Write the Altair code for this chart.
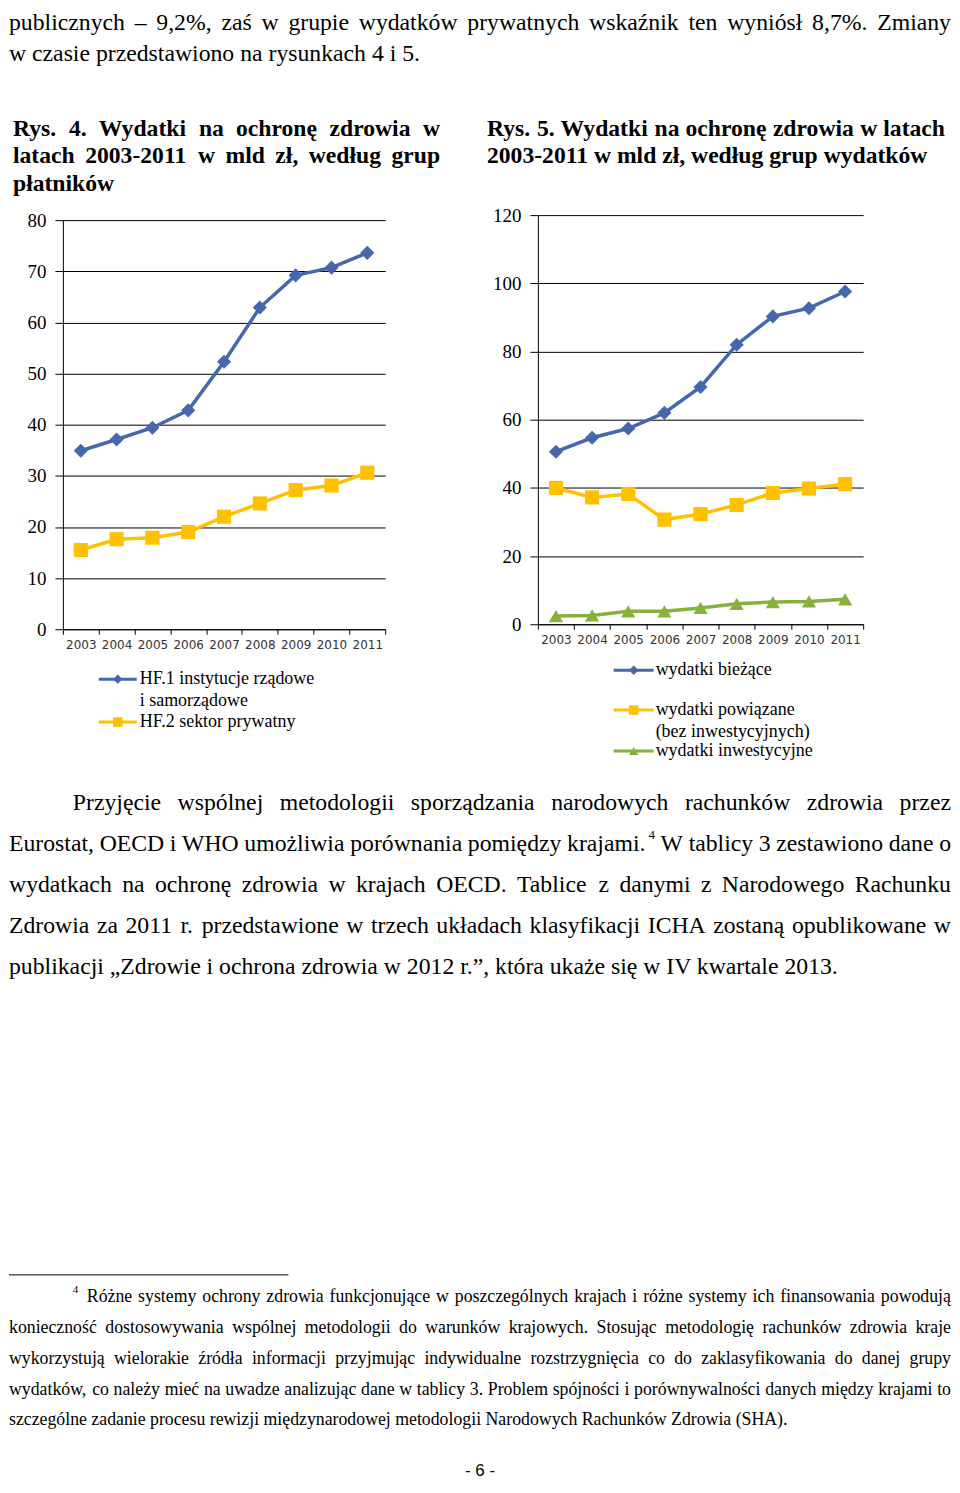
import unicodedata
import altair as alt
import pandas as pd

# ---------------- data ----------------
years = ["2003", "2004", "2005", "2006", "2007", "2008", "2009", "2010", "2011"]

left_names = ["HF.1 instytucje rządowe\ni samorządowe", "HF.2 sektor prywatny"]
left_hf1 = [34.9, 37.1, 39.4, 42.8, 52.3, 62.9, 69.2, 70.7, 73.6]
left_hf2 = [15.5, 17.6, 17.9, 19.0, 22.0, 24.6, 27.2, 28.1, 30.6]
left_ticks = [0, 10, 20, 30, 40, 50, 60, 70, 80]

right_names = ["wydatki bieżące", "wydatki powiązane\n(bez inwestycyjnych)", "wydatki inwestycyjne"]
right_current = [50.6, 54.7, 57.4, 62.0, 69.6, 82.0, 90.3, 92.7, 97.6]
right_related = [40.0, 37.2, 38.2, 30.7, 32.3, 35.0, 38.5, 39.8, 41.1]
right_invest = [2.4, 2.6, 3.8, 3.8, 4.8, 6.0, 6.5, 6.7, 7.3]
right_ticks = [0, 20, 40, 60, 80, 100, 120]

top_lines = [
    "publicznych – 9,2%, zaś w grupie wydatków prywatnych wskaźnik ten wyniósł  8,7%.  Zmiany",
    "w czasie przedstawiono na rysunkach 4 i 5.",
]
cap_left = [
    "Rys. 4. Wydatki na ochronę zdrowia w",
    "latach 2003-2011 w mld zł, według grup",
    "płatników",
]
cap_right = [
    "Rys. 5. Wydatki na ochronę zdrowia w latach",
    "2003-2011 w mld zł, według grup wydatków",
]
body_lines = [
    "Przyjęcie wspólnej metodologii sporządzania narodowych rachunków zdrowia przez",
    "Eurostat, OECD i WHO umożliwia porównania pomiędzy krajami.⁴ W tablicy 3 zestawiono dane o",
    "wydatkach na ochronę zdrowia w krajach OECD. Tablice z danymi z Narodowego Rachunku",
    "Zdrowia za 2011 r. przedstawione w trzech układach klasyfikacji ICHA zostaną opublikowane w",
    "publikacji „Zdrowie i ochrona zdrowia w 2012 r.”, która ukaże się w IV kwartale 2013.",
]
foot_mark = "4"
foot_lines = [
    "Różne systemy ochrony zdrowia funkcjonujące w poszczególnych krajach i różne systemy ich finansowania powodują",
    "konieczność dostosowywania wspólnej metodologii do warunków krajowych. Stosując metodologię rachunków zdrowia kraje",
    "wykorzystują wielorakie źródła informacji przyjmując indywidualne rozstrzygnięcia co do zaklasyfikowania do danej grupy",
    "wydatków, co należy mieć na uwadze analizując dane w tablicy 3. Problem spójności i porównywalności danych między krajami to",
    "szczególne zadanie procesu rewizji międzynarodowej metodologii Narodowych Rachunków Zdrowia (SHA).",
]
page_label = "- 6 -"

# ---------------- styles ----------------
BLUE = "#4567AC"
YELLOW = "#FFC000"
GREEN = "#86B23C"
SERIF = "Liberation Serif"
SANS = "Liberation Sans"
W = 944

# Times metrics (per 1000 em) used to lay out justified text
UP = "ABCDEFGHIJKLMNOPQRSTUVWXYZ"
LO = "abcdefghijklmnopqrstuvwxyz"
TR = dict(zip(UP, [722, 667, 667, 722, 611, 556, 722, 722, 333, 389, 722, 611, 889, 722, 722, 556, 722, 667, 556, 611, 722, 722, 944, 722, 722, 611]))
TR.update(dict(zip(LO, [444, 500, 444, 500, 444, 333, 500, 500, 278, 278, 500, 278, 778, 500, 500, 500, 500, 333, 389, 278, 500, 500, 722, 500, 500, 444])))
TR.update({" ": 250, "%": 833, "(": 333, ")": 333, ",": 250, "-": 333, ".": 250, ":": 278, ";": 278, "–": 500, "„": 444, "”": 444})
TB = dict(zip(UP, [722, 667, 722, 722, 667, 611, 778, 778, 389, 500, 778, 667, 944, 722, 778, 611, 778, 722, 556, 667, 722, 722, 1000, 722, 722, 667]))
TB.update(dict(zip(LO, [500, 556, 444, 556, 444, 333, 500, 556, 278, 333, 556, 278, 833, 556, 500, 556, 556, 444, 389, 333, 556, 500, 722, 500, 500, 444])))
TB.update({" ": 250, "%": 1000, "(": 333, ")": 333, ",": 250, "-": 333, ".": 250, ":": 333, "–": 500})
SPECIAL = {"ł": "l", "Ł": "L"}


def units(s, bold=False):
    t = TB if bold else TR
    tot = 0
    for c in s:
        c2 = SPECIAL.get(c, c)
        if c2 not in t:
            c2 = unicodedata.normalize("NFD", c2)[0]
        tot += t.get(c2, 500)
    return tot / 1000.0


OY = 215  # page y of the top of the chart row


def cx(page_x):
    return min(W, max(0, page_x - 8))


def ry(page_y):
    return page_y - OY


def line_rows(text, x0, x1, y, fs, bold=False, just=True, sup_fs=13):
    if not just:
        return [dict(t=text, px=x0, py=y, fs=fs)]
    words = text.split()
    widths = []
    for w in words:
        if "⁴" in w:
            widths.append(units(w.replace("⁴", ""), bold) * fs + units("4") * sup_fs + 3)
        else:
            widths.append(units(w, bold) * fs)
    gap = (x1 - x0 - sum(widths)) / (len(words) - 1)
    rows = []
    x = x0
    for w, wl in zip(words, widths):
        if "⁴" in w:
            base = w.replace("⁴", "")
            rows.append(dict(t=base, px=round(x, 2), py=y, fs=fs))
            rows.append(dict(t="4", px=round(x + units(base, bold) * fs + 3, 2), py=y - 9, fs=sup_fs))
        else:
            rows.append(dict(t=w, px=round(x, 2), py=y, fs=fs))
        x += wl + gap
    return rows


fs_top = 412 / units(top_lines[1])
fs_cap = 443 / units(cap_right[1], True)
fs_body = 833 / units(body_lines[-1])
fs_foot = 781 / units(foot_lines[-1])


def text_layer(rows, bold=False, font=SERIF):
    return alt.Chart(pd.DataFrame(rows)).mark_text(
        align="left", baseline="middle", font=font,
        fontWeight="bold" if bold else "normal", color="black"
    ).encode(
        x=alt.X("px:Q", scale=None),
        y=alt.Y("py:Q", scale=None),
        text="t:N",
        size=alt.Size("fs:Q", scale=None, legend=None),
    )


# ---------------- page text (drawn in the first, left-most cell) ----------------
rows = line_rows(top_lines[0], cx(2), cx(958), ry(22), fs_top)
rows += line_rows(top_lines[1], cx(2), cx(958), ry(54), fs_top, just=False)

body_y = [804, 845, 886, 927, 968]
rows += line_rows(body_lines[0], cx(72), cx(958), ry(body_y[0]), fs_body)
for i in (1, 2, 3):
    rows += line_rows(body_lines[i], cx(2), cx(958), ry(body_y[i]), fs_body)
rows += line_rows(body_lines[4], cx(2), cx(958), ry(body_y[4]), fs_body, just=False)

foot_y = [1299, 1330, 1361, 1392, 1422]
rows.append(dict(t=foot_mark, px=cx(72), py=ry(1292), fs=11))
rows += line_rows(foot_lines[0], cx(86), cx(958), ry(foot_y[0]), fs_foot)
for i in (1, 2, 3):
    rows += line_rows(foot_lines[i], cx(2), cx(958), ry(foot_y[i]), fs_foot)
rows += line_rows(foot_lines[4], cx(2), cx(958), ry(foot_y[4]), fs_foot, just=False)

cap_rows = line_rows(cap_left[0], cx(12), cx(440), ry(129), fs_cap, bold=True)
cap_rows += line_rows(cap_left[1], cx(12), cx(440), ry(156), fs_cap, bold=True)
cap_rows += line_rows(cap_left[2], cx(12), cx(440), ry(184), fs_cap, bold=True, just=False)
cap_rows += line_rows(cap_right[0], cx(487), cx(946), ry(129), fs_cap, bold=True)
cap_rows += line_rows(cap_right[1], cx(487), cx(946), ry(156), fs_cap, bold=True, just=False)

one = pd.DataFrame({"k": [0]})
foot_rule = alt.Chart(one).mark_rule(color="black", strokeWidth=1).encode(
    x=alt.value(cx(2)), x2=alt.value(cx(288)), y=alt.value(ry(1277))
)
page_num = alt.Chart(one).mark_text(
    font=SANS, fontSize=17, align="center", baseline="middle", color="black"
).encode(x=alt.value(cx(480)), y=alt.value(ry(1474)), text=alt.value(page_label))

text_host = alt.layer(
    text_layer(rows), text_layer(cap_rows, bold=True), foot_rule, page_num
).properties(width=54, height=415)


# ---------------- charts ----------------
def legend_layers(names, colors, shapes, ys, xl0, xl1, xt):
    layers = []
    for name, col, shp, yy in zip(names, colors, shapes, ys):
        layers.append(alt.Chart(one).mark_rule(color=col, strokeWidth=3).encode(
            x=alt.value(xl0), x2=alt.value(xl1), y=alt.value(yy)))
        layers.append(alt.Chart(one).mark_point(
            shape=shp, filled=True, size=90, color=col, opacity=1).encode(
            x=alt.value((xl0 + xl1) / 2), y=alt.value(yy)))
        for k, part in enumerate(name.split("\n")):
            layers.append(alt.Chart(one).mark_text(
                font=SERIF, fontSize=18, align="left", baseline="middle", color="black"
            ).encode(x=alt.value(xt), y=alt.value(yy + 22 * k), text=alt.value(part)))
    return layers


def line_chart(series, names, colors, shapes, ticks, width, height, yrange, leg):
    recs = []
    for name, vals in zip(names, series):
        for yr, v in zip(years, vals):
            recs.append(dict(year=yr, value=v, series=name))
    df = pd.DataFrame(recs)
    base = alt.Chart(df).encode(
        x=alt.X("year:O", sort=years,
                scale=alt.Scale(type="band", paddingInner=0, paddingOuter=0),
                axis=alt.Axis(title=None, labelAngle=0, grid=False, tickBand="extent",
                              domainColor="black", tickColor="black", tickSize=5,
                              labelPadding=5, labelFont="DejaVu Sans", labelFontSize=12,
                              labelColor="#333333")),
        y=alt.Y("value:Q",
                scale=alt.Scale(domain=[ticks[0], ticks[-1]], range=yrange, nice=False, zero=True),
                axis=alt.Axis(title=None, values=ticks, grid=True, gridColor="black",
                              gridOpacity=1, gridWidth=1, domainColor="black",
                              tickColor="black", tickSize=8, labelPadding=9,
                              labelFont=SERIF, labelFontSize=19, labelColor="black")),
        color=alt.Color("series:N", scale=alt.Scale(domain=names, range=colors), legend=None),
    )
    line = base.mark_line(strokeWidth=3.5)
    pts = base.mark_point(filled=True, opacity=1, size=200).encode(
        shape=alt.Shape("series:N", scale=alt.Scale(domain=names, range=shapes), legend=None)
    )
    return alt.layer(line, pts, *leg).properties(width=width, height=height)


left_chart = line_chart(
    [left_hf1, left_hf2], left_names, [BLUE, YELLOW], ["diamond", "square"],
    left_ticks, 323, 415, [415, 5],
    legend_layers(left_names, [BLUE, YELLOW], ["diamond", "square"], [465, 508], 36, 74, 77),
)
right_chart = line_chart(
    [right_current, right_related, right_invest], right_names, [BLUE, YELLOW, GREEN],
    ["diamond", "square", "triangle-up"], right_ticks, 326, 410, [410, 0],
    legend_layers(right_names, [BLUE, YELLOW, GREEN], ["diamond", "square", "triangle-up"],
                  [456, 496, 537], 76, 116, 118),
)

gap_cell = alt.Chart(one).mark_text(text="").encode(
    x=alt.value(70), y=alt.value(200)).properties(width=153, height=415)

chart = alt.hconcat(
    text_host, left_chart, gap_cell, right_chart, spacing=0, bounds="flush"
).resolve_scale(
    color="independent", shape="independent"
).properties(
    padding=0, background="white"
).configure_view(stroke="transparent")

chart.save("out.html", embed_options={"renderer": "svg", "actions": False})
